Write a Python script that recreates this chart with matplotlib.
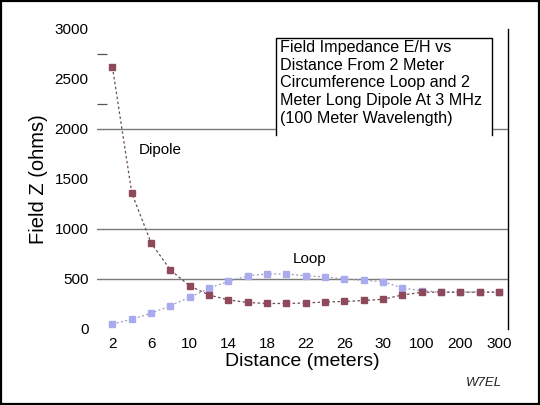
import matplotlib
matplotlib.use("Agg")
import matplotlib.pyplot as plt
from matplotlib.patches import Rectangle
from matplotlib.lines import Line2D

plt.rcParams['font.family'] = ['Liberation Sans', 'DejaVu Sans']

# categories (distance in meters)
distances = [2, 4, 6, 8, 10, 12, 14, 16, 18, 20, 22, 24, 26, 28, 30, 50, 100, 150, 200, 250, 300]
tick_labels = ['2', '', '6', '', '10', '', '14', '', '18', '', '22', '', '26', '', '30', '',
               '100', '', '200', '', '300']
dipole = [2620, 1360, 860, 590, 430, 340, 290, 265, 255, 255, 260, 270, 275, 285, 297, 340,
          367, 368, 368, 368, 368]
loop = [50, 97, 157, 233, 317, 407, 477, 533, 550, 550, 533, 520, 500, 487, 473, 410,
        383, 370, 370, 370, 370]
minor_x_idx = [2, 3, 6, 9, 12, 13, 16, 19]
minor_y = [2250, 2750]
grid_vals = [500, 1000, 2000]
y_ticks = [0, 500, 1000, 1500, 2000, 2500, 3000]
title_text = ('Field Impedance E/H vs\nDistance From 2 Meter\nCircumference Loop and 2\n'
              'Meter Long Dipole At 3 MHz\n(100 Meter Wavelength)')

fig = plt.figure(figsize=(5.4, 4.05), dpi=100)
fig.patch.set_facecolor('white')
fig.patches.append(Rectangle((0.001, 0.002), 0.997, 0.996, transform=fig.transFigure,
                             fill=False, edgecolor='black', linewidth=1.6))

ax = fig.add_axes([0.1796, 0.1877, 0.9407 - 0.1796, 0.9284 - 0.1877])
x = list(range(len(distances)))

for v in grid_vals:
    ax.axhline(v, color='#7a7a7a', linewidth=1.0, zorder=1)

ax.plot(x, loop, linestyle=(0, (1.5, 2)), color='#9a9ab8', linewidth=0.9,
        marker='s', markersize=5, markerfacecolor='#aaaaee', markeredgecolor='#aaaaee', zorder=3)
ax.plot(x, dipole, linestyle=(0, (2, 2)), color='#6a4a55', linewidth=0.9,
        marker='s', markersize=5, markerfacecolor='#8e4a5a', markeredgecolor='#8e4a5a', zorder=4)

ax.set_xlim(-0.80, 20.46)
ax.set_ylim(0, 3000)

ax.set_xticks(x)
ax.set_xticklabels(tick_labels, fontsize=11)
ax.set_xticks(minor_x_idx, minor=True)
ax.set_yticks(y_ticks)
ax.set_yticklabels([str(v) for v in y_ticks], fontsize=11)
ax.set_yticks(minor_y, minor=True)

ax.tick_params(axis='x', which='major', length=0, pad=6)
ax.tick_params(axis='y', which='major', length=0, pad=6)
ax.tick_params(axis='x', which='minor', direction='inout', length=7, width=0.9, color='#555555')
ax.tick_params(axis='y', which='minor', direction='in', length=7, width=0.9, color='#555555')

for s in ['top', 'left', 'bottom']:
    ax.spines[s].set_visible(False)
ax.spines['right'].set_color('black')
ax.spines['right'].set_linewidth(1.0)

ax.set_xlabel('Distance (meters)', fontsize=14, labelpad=1)
ax.set_ylabel('Field Z (ohms)', fontsize=14.5, labelpad=5)

ax.text(1.35, 1790, 'Dipole', fontsize=11, ha='left', va='center')
ax.text(9.35, 700, 'Loop', fontsize=11, ha='left', va='center')

# title box (open at the bottom, as in the reference)
bx0, bx1, by0, by1 = 0.4355, 0.961, 0.6467, 0.97
ax.add_patch(Rectangle((bx0, by0), bx1 - bx0, by1 - by0, transform=ax.transAxes,
                       facecolor='white', edgecolor='none', zorder=5, clip_on=False))
ax.add_line(Line2D([bx0, bx0, bx1, bx1], [by0, by1, by1, by0], transform=ax.transAxes,
                   color='black', linewidth=1.0, zorder=6, clip_on=False))
ax.text(0.4453, 0.963, title_text, transform=ax.transAxes, fontsize=11.6,
        ha='left', va='top', linespacing=1.22, zorder=7)

fig.text(0.93, 0.055, 'W7EL', fontsize=9.5, style='italic', ha='right', va='center', color='#222222')

fig.savefig('out.png', dpi=100)
